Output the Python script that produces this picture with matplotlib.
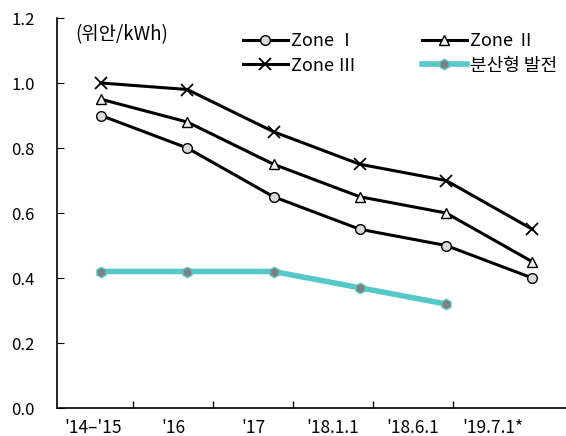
import matplotlib.pyplot as plt
from matplotlib.ticker import FormatStrFormatter

plt.rcParams['font.family'] = ['Noto Sans CJK KR', 'DejaVu Sans']

# 데이터
periods = ["'14–'15", "'16", "'17", "'18.1.1", "'18.6.1", "'19.7.1*"]
zone1 = [0.90, 0.80, 0.65, 0.55, 0.50, 0.40]
zone2 = [0.95, 0.88, 0.75, 0.65, 0.60, 0.45]
zone3 = [1.00, 0.98, 0.85, 0.75, 0.70, 0.55]
distributed = [0.42, 0.42, 0.42, 0.37, 0.32]

fig = plt.figure(figsize=(5.66, 4.36), dpi=100)
ax = fig.add_axes([57 / 566, 28 / 436, 509 / 566, 390 / 436])

x = list(range(len(periods)))
l1, = ax.plot(x, zone1, color='black', lw=2.2, marker='o', ms=7,
              mfc='#d9d9d9', mec='black', mew=1, label='Zone Ⅰ')
l2, = ax.plot(x, zone2, color='black', lw=2.2, marker='^', ms=7,
              mfc='#eeeeee', mec='black', mew=1, label='Zone Ⅱ')
l3, = ax.plot(x, zone3, color='black', lw=2.2, marker='x', ms=8,
              mec='black', mew=1.3, label='Zone Ⅲ')
l4, = ax.plot(x[:len(distributed)], distributed, color='#55c8c8', lw=4, marker='h', ms=7.5,
              mfc='#7f7f7f', mec='#55c8c8', mew=1, label='분산형 발전')

ax.set_xlim(-0.51, 5.39)
ax.set_ylim(0, 1.2)
ax.set_yticks([0, 0.2, 0.4, 0.6, 0.8, 1.0, 1.2])
ax.yaxis.set_major_formatter(FormatStrFormatter('%.1f'))
ax.tick_params(axis='y', direction='in', length=5, labelsize=12, pad=16)
ax.set_xticks([])

for s in ['top', 'right']:
    ax.spines[s].set_visible(False)
ax.spines['left'].set_linewidth(1.2)
ax.spines['bottom'].set_linewidth(1.2)

# 범주 축 (눈금은 범주 경계에)
cat = ax.twiny()
cat.xaxis.set_ticks_position('bottom')
cat.xaxis.set_label_position('bottom')
for s in cat.spines.values():
    s.set_visible(False)
cat.set_xlim(-0.45, 5.91)
cat.set_xticks([k + 0.5 for k in range(len(periods) - 1)])
cat.set_xticklabels([])
cat.set_xticks(range(len(periods)), minor=True)
cat.set_xticklabels(periods, minor=True)
cat.tick_params(axis='x', which='major', direction='in', length=5, width=1)
cat.tick_params(axis='x', which='minor', length=0, labelsize=12.5, pad=8)

ax.text(0.035, 0.985, '(위안/kWh)', transform=ax.transAxes, fontsize=13.5,
        va='top', ha='left')

# 행 순서: Zone I, Zone II / Zone III, 분산형 발전
ax.legend([l1, l3, l2, l4], ['Zone Ⅰ', 'Zone Ⅲ', 'Zone Ⅱ', '분산형 발전'],
          ncol=2, loc='upper left', bbox_to_anchor=(0.333, 1.005), frameon=False,
          fontsize=13, handlelength=2.5, handletextpad=0.2, columnspacing=3.6,
          labelspacing=0.35)

fig.savefig('out.png', dpi=100)
